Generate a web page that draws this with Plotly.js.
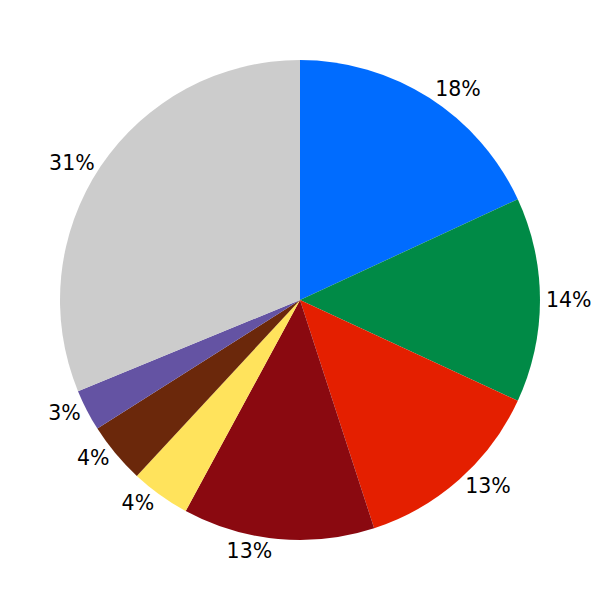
<!DOCTYPE html>
<html>
<head>
<meta charset="utf-8">
<script src="https://cdn.plot.ly/plotly-3.0.1.min.js"></script>
<style>html,body{margin:0;padding:0;background:#fff;}#chart{width:600px;height:600px;}</style>
</head>
<body>
<div id="chart"></div>
<script>
const categories = ["A", "B", "C", "D", "E", "F", "G", "H"];
const values = [18.1, 13.8, 13.1, 12.9, 4.0, 4.1, 2.8, 31.2];
const colors = ["#006cff", "#008a46", "#e41f00", "#8a0910", "#ffe35c", "#6b280b", "#6453a3", "#cccccc"];

const trace = {
  type: "pie",
  labels: categories,
  values: values,
  sort: false,
  direction: "clockwise",
  rotation: 0,
  marker: { colors: colors, line: { width: 0 } },
  textinfo: "percent",
  texttemplate: "%{percent:.0%}",
  textposition: "outside",
  textfont: { family: "DejaVu Sans", size: 20.5, color: "#000000" },
  hoverinfo: "label+percent"
};

const layout = {
  width: 600,
  height: 600,
  showlegend: false,
  margin: { l: 60, r: 60, t: 60, b: 60 },
  paper_bgcolor: "#ffffff",
  plot_bgcolor: "#ffffff"
};

Plotly.newPlot("chart", [trace], layout, { staticPlot: true });
</script>
</body>
</html>
